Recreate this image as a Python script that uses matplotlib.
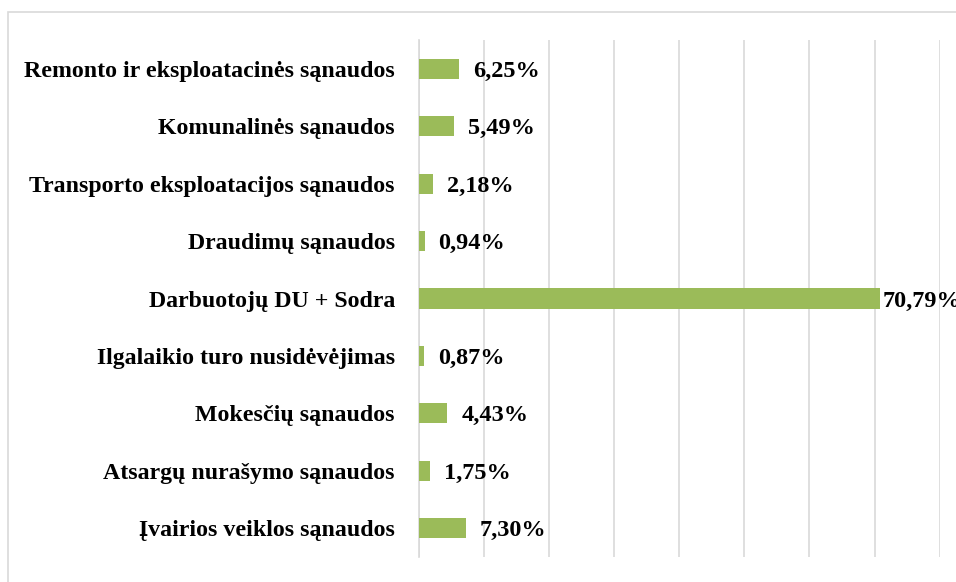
import numpy as np
from matplotlib import pyplot as plt
from matplotlib.patches import Rectangle

# categories top to bottom
categories = ["Remonto ir eksploatacinės sąnaudos",
              "Komunalinės sąnaudos",
              "Transporto eksploatacijos sąnaudos",
              "Draudimų sąnaudos",
              "Darbuotojų DU + Sodra",
              "Ilgalaikio turo nusidėvėjimas",
              "Mokesčių sąnaudos",
              "Atsargų nurašymo sąnaudos",
              "Įvairios veiklos sąnaudos"]
shares = [6.25, 5.49, 2.18, 0.94, 70.79, 0.87, 4.43, 1.75, 7.30]
value_labels = ["6,25%", "5,49%", "2,18%", "0,94%", "70,79%", "0,87%", "4,43%", "1,75%", "7,30%"]

plt.rcParams['font.family'] = ['Liberation Serif', 'DejaVu Serif']

fig = plt.figure(figsize=(9.56, 5.82), dpi=100)
# outer chart frame (left and top edges visible, rest cropped)
fig.patches.append(Rectangle((8 / 956, -0.1), 1.2, 1 - 12 / 582 + 0.1, transform=fig.transFigure,
                             fill=False, edgecolor='#D9D9D9', linewidth=1.2))

ax = fig.add_axes([418.5 / 956, 1 - 557 / 582, (939.7 - 418.5) / 956, (557 - 40) / 582])

y_pos = np.arange(len(categories))
bars = ax.barh(y_pos, shares, height=0.35, color='#9BBB59', zorder=3)

ax.set_xlim(0, 80)
ax.set_ylim(len(categories) - 0.5, -0.5)
ax.set_xticks(np.arange(0, 81, 10))
ax.xaxis.grid(True, color='#D9D9D9', linewidth=1.2, zorder=0)
ax.tick_params(axis='x', length=0, labelbottom=False)
ax.tick_params(axis='y', length=0, pad=17)
ax.set_yticks(y_pos)
ax.set_yticklabels(categories, fontsize=17.2, fontweight='bold', va='center_baseline')

for s in ['top', 'right', 'bottom']:
    ax.spines[s].set_visible(False)
ax.spines['left'].set_color('#D9D9D9')
ax.spines['left'].set_linewidth(1.2)

for rect, lab, v in zip(bars, value_labels, shares):
    pad = 2 if v > 60 else 10
    ax.annotate(lab, (rect.get_width(), rect.get_y() + rect.get_height() / 2),
                xytext=(pad, 0), textcoords='offset points', va='center_baseline', ha='left',
                fontsize=17.5, fontweight='bold', annotation_clip=False)

plt.savefig("out.png", dpi=100)
